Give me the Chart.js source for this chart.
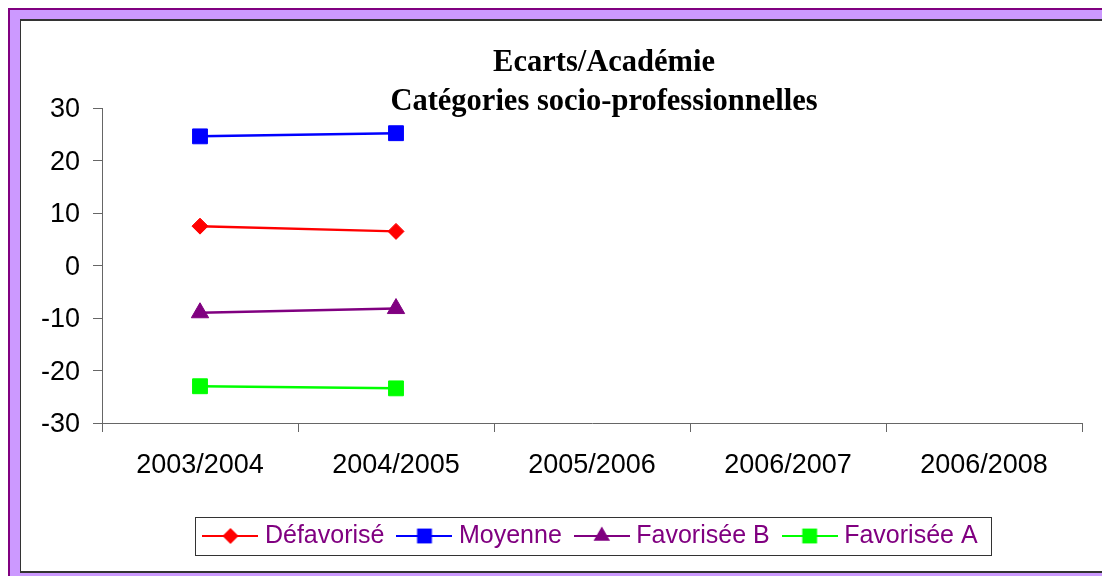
<!DOCTYPE html>
<html>
<head>
<meta charset="utf-8">
<script src="https://cdn.jsdelivr.net/npm/chart.js@4.4.1/dist/chart.umd.min.js"></script>
<style>
  html, body { margin: 0; padding: 0; background: #fff; overflow: hidden; width: 1102px; height: 576px; position: relative; }
  #frame { position: absolute; left: 8px; top: 8px; width: 1094px; height: 568px; box-sizing: border-box; background: #cc99ff; border-top: 2px solid #800080; border-left: 2px solid #800080; }
  #inner { position: absolute; left: 20px; top: 19px; width: 1082px; height: 554px; box-sizing: border-box; background: #fff; border-top: 2px solid #333; border-left: 1px solid #333; border-bottom: 2px solid #333; }
  #wrap { position: absolute; left: 21px; top: 21px; width: 1081px; height: 550px; overflow: hidden; }
</style>
</head>
<body>
<div id="frame"></div>
<div id="inner"></div>
<div id="wrap"><canvas id="chart" width="1144" height="550"></canvas></div>
<script>
// school years on the x axis
const categories = ['2003/2004', '2004/2005', '2005/2006', '2006/2007', '2006/2008'];

// gaps vs. the académie, only the first two years are filled in
const defavorise = [7.5, 6.5];
const moyenne = [24.6, 25.2];
const favoriseeB = [-9.0, -8.2];
const favoriseeA = [-23.0, -23.4];

const yMin = -30;
const yMax = 30;
const yStep = 10;

const titleLines = ['Ecarts/Académie', 'Catégories socio-professionnelles'];

// legend sample: a short line with the marker in the middle (Excel style)
function legendSymbol(color, style, radius) {
  const c = document.createElement('canvas');
  c.width = 56;
  c.height = 24;
  const g = c.getContext('2d');
  g.strokeStyle = color;
  g.lineWidth = 2;
  g.beginPath();
  g.moveTo(0, 12);
  g.lineTo(56, 12);
  g.stroke();
  g.fillStyle = color;
  Chart.helpers.drawPoint(g, { pointStyle: style, radius: radius, borderWidth: 0 }, 28, 12);
  return c;
}

const symbols = [
  legendSymbol('#ff0000', 'rectRot', 8),
  legendSymbol('#0000ff', 'rect', 10.5),
  legendSymbol('#800080', 'triangle', 9.5),
  legendSymbol('#00ff00', 'rect', 10.5)
];

// title sits a bit right of the plot centre
const titleShift = {
  id: 'titleShift',
  afterLayout(chart) {
    const t = chart.titleBlock;
    if (t) {
      t.left += 11;
      t.right += 11;
    }
  }
};

// thin frame round the legend
const legendFrame = {
  id: 'legendFrame',
  afterDraw(chart) {
    const boxes = chart.legend.legendHitBoxes;
    if (!boxes || !boxes.length) return;
    const first = boxes[0];
    const last = boxes[boxes.length - 1];
    const ctx = chart.ctx;
    const x0 = Math.round(first.left - 13) + 0.5;
    const x1 = Math.round(last.left + last.width + 13) + 0.5;
    const y0 = Math.round(first.top - 6.5) + 0.5;
    const y1 = Math.round(first.top + first.height + 6.5) + 0.5;
    ctx.save();
    ctx.strokeStyle = '#333';
    ctx.lineWidth = 1;
    ctx.strokeRect(x0, y0, x1 - x0, y1 - y0);
    ctx.restore();
  }
};

function makeDataset(label, data, color, style, radius) {
  return {
    label: label,
    data: data,
    borderColor: color,
    backgroundColor: color,
    pointBackgroundColor: color,
    pointBorderColor: color,
    pointStyle: style,
    pointRadius: radius,
    pointBorderWidth: 1,
    borderWidth: 2.5,
    tension: 0
  };
}

const tickFont = { family: 'Liberation Sans', size: 27 };

new Chart(document.getElementById('chart'), {
  type: 'line',
  data: {
    labels: categories,
    datasets: [
      makeDataset('Défavorisé', defavorise, '#ff0000', 'rectRot', 8),
      makeDataset('Moyenne', moyenne, '#0000ff', 'rect', 10.5),
      makeDataset('Favorisée B', favoriseeB, '#800080', 'triangle', 10),
      makeDataset('Favorisée A', favoriseeA, '#00ff00', 'rect', 10.5)
    ]
  },
  options: {
    responsive: false,
    animation: false,
    events: [],
    layout: { padding: { top: 0, bottom: 12.5, left: 0, right: 0 } },
    plugins: {
      title: {
        display: true,
        text: titleLines,
        color: '#000',
        font: { family: 'Liberation Serif', size: 30.5, weight: 'bold', lineHeight: 1.2787 },
        padding: { top: 22.5, bottom: -13.5 }
      },
      legend: {
        position: 'bottom',
        labels: {
          color: '#800080',
          font: { family: 'Liberation Sans', size: 25 },
          usePointStyle: true,
          pointStyleWidth: 44,
          padding: 18,
          generateLabels: chart => Chart.defaults.plugins.legend.labels.generateLabels(chart).map((item, i) => {
            item.pointStyle = symbols[i];
            return item;
          })
        }
      },
      tooltip: { enabled: false }
    },
    scales: {
      x: {
        offset: true,
        grid: { offset: true, drawOnChartArea: false, tickLength: 9, color: '#666' },
        border: { color: '#666', width: 1 },
        ticks: { color: '#000', font: tickFont, padding: 17, maxRotation: 0, autoSkip: false },
        afterFit: s => { s.height = 82.5; }
      },
      y: {
        min: yMin,
        max: yMax,
        ticks: { stepSize: yStep, color: '#000', font: tickFont, padding: 13, labelOffset: 2 },
        grid: { drawOnChartArea: false, tickLength: 9, color: '#666' },
        border: { color: '#666', width: 1 },
        afterFit: s => { s.width = 81; }
      },
      y2: {
        type: 'linear',
        position: 'right',
        display: true,
        grid: { display: false },
        border: { display: false },
        ticks: { display: false },
        afterFit: s => { s.width = 83; }
      }
    }
  },
  plugins: [titleShift, legendFrame]
});
</script>
</body>
</html>
